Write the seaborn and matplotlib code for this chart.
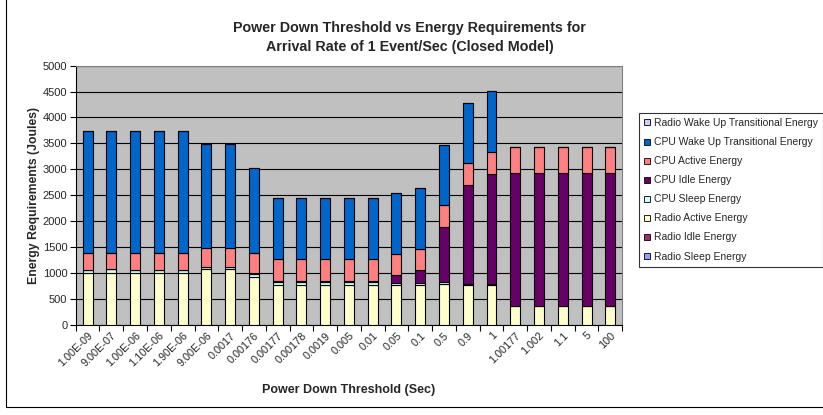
import matplotlib
matplotlib.use("Agg")
import matplotlib.pyplot as plt
from matplotlib.lines import Line2D
from matplotlib.patches import Rectangle
import numpy as np
import seaborn as sns

# 阈值类别（x 轴）
thresholds = [
    "1.00E-09", "9.00E-07", "1.00E-06", "1.10E-06", "1.90E-06", "9.00E-06",
    "0.0017", "0.00176", "0.00177", "0.00178", "0.0019", "0.005", "0.01",
    "0.05", "0.1", "0.5", "0.9", "1", "1.00177", "1.002", "1.1", "5", "100",
]

# 各能量分量（焦耳），自下而上堆叠
radio_sleep = [0] * 23
radio_idle = [0] * 23
radio_active = [1010, 1010, 995, 995, 1010, 1075, 1075, 930, 765, 765, 765, 765, 765,
                765, 765, 780, 770, 770, 373, 373, 373, 373, 373]
cpu_sleep = [45, 65, 55, 55, 50, 50, 50, 60, 65, 65, 65, 65, 65,
             50, 50, 43, 20, 20, 0, 0, 0, 0, 0]
cpu_idle = [0, 0, 0, 0, 0, 0, 0, 20, 15, 15, 15, 15, 15,
            149, 245, 1060, 1903, 2127, 2564, 2564, 2564, 2564, 2564]
cpu_active = [339, 319, 344, 344, 334, 365, 365, 384, 421, 421, 421, 421, 421,
              405, 412, 424, 424, 412, 488, 488, 488, 488, 488]
cpu_wakeup = [2340, 2340, 2340, 2340, 2340, 2000, 2000, 1627, 1176, 1176, 1176, 1176, 1176,
              1170, 1169, 1169, 1169, 1182, 0, 0, 0, 0, 0]
radio_wakeup = [0] * 23

series = [
    ("Radio Sleep Energy", radio_sleep, "#9999FF"),
    ("Radio Idle Energy", radio_idle, "#993366"),
    ("Radio Active Energy", radio_active, "#FFFFCC"),
    ("CPU Sleep Energy", cpu_sleep, "#CCFFFF"),
    ("CPU Idle Energy", cpu_idle, "#660066"),
    ("CPU Active Energy", cpu_active, "#FF8080"),
    ("CPU Wake Up Transitional Energy", cpu_wakeup, "#0066CC"),
    ("Radio Wake Up Transitional Energy", radio_wakeup, "#CCCCFF"),
]

sns.set_theme(style="white")
plt.rcParams["font.family"] = ["Liberation Sans", "DejaVu Sans"]

fig = plt.figure(figsize=(8.23, 4.15), dpi=100)
ax = fig.add_axes([0.092, 0.217, 0.664, 0.625])
ax.set_facecolor("#C0C0C0")

bottom = np.zeros(len(thresholds))
for name, vals, col in series:
    sns.barplot(x=thresholds, y=vals, bottom=bottom, color=col, width=0.42,
                edgecolor="black", linewidth=0.8, saturation=1, ax=ax, zorder=3)
    bottom = bottom + np.array(vals)

ax.set_ylim(0, 5000)
ax.set_xlim(-0.5, len(thresholds) - 0.5)
ax.set_yticks(np.arange(0, 5001, 500))
ax.yaxis.grid(True, color="black", linewidth=0.8, zorder=0)
ax.set_axisbelow(True)

ax.set_xticks(np.arange(len(thresholds)))
ax.set_xticklabels(thresholds, rotation=45, ha="right", rotation_mode="anchor", fontsize=7.8)
ax.set_xticks(np.arange(len(thresholds) + 1) - 0.5, minor=True)
ax.tick_params(axis="x", which="major", length=0, pad=4)
ax.tick_params(axis="x", which="minor", length=4, width=0.8, color="black", bottom=True)
ax.tick_params(axis="y", length=4, width=0.8, color="black", left=True, labelsize=8, pad=2)

for side in ["left", "bottom"]:
    ax.spines[side].set_color("black")
    ax.spines[side].set_linewidth(0.8)
for side in ["top", "right"]:
    ax.spines[side].set_color("#808080")
    ax.spines[side].set_linewidth(0.8)

ax.set_xlabel("Power Down Threshold (Sec)", fontsize=9, fontweight="bold", labelpad=11)
ax.set_ylabel("Energy Requirements (Joules)", fontsize=8.8, fontweight="bold", labelpad=2)

fig.text(0.498, 0.91, "Power Down Threshold vs Energy Requirements for\nArrival Rate of 1 Event/Sec (Closed Model)",
         ha="center", va="center", fontsize=10.3, fontweight="bold", linespacing=1.4)

handles = [Line2D([], [], marker="s", linestyle="none", markersize=4.5,
                  markerfacecolor=col, markeredgecolor="black", markeredgewidth=0.6)
           for _, _, col in series[::-1]]
labels = [name for name, _, _ in series[::-1]]
leg = fig.legend(handles, labels, loc="upper left", bbox_to_anchor=(0.776, 0.728),
                 fontsize=7.5, frameon=True, fancybox=False, edgecolor="black",
                 handlelength=0.6, handletextpad=0.4, labelspacing=0.87,
                 borderpad=0.5, borderaxespad=0)
leg.get_frame().set_linewidth(0.8)

# 外框
fig.patches.append(Rectangle((6 / 823, 8 / 415), 1.0, 1.0, transform=fig.transFigure,
                             fill=False, edgecolor="black", linewidth=0.8))

fig.savefig("out.png", dpi=100)
